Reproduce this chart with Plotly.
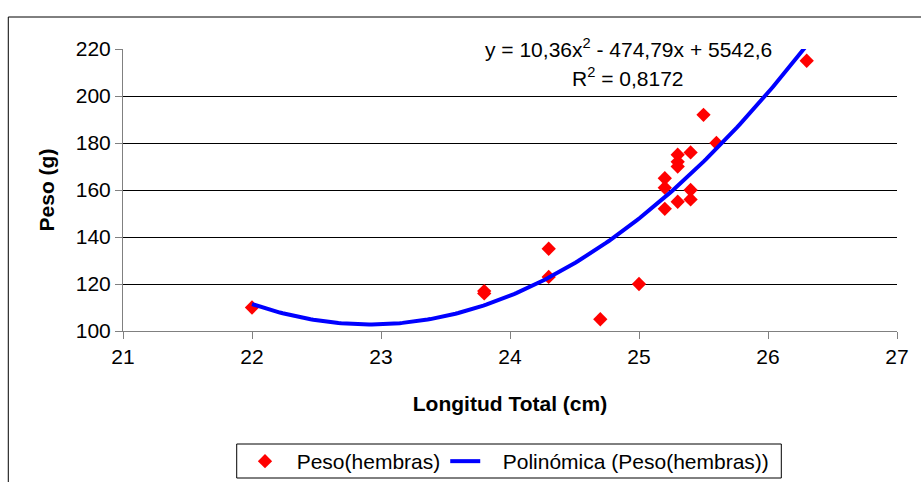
import numpy as np
import plotly.graph_objects as go

longitud = [22.0, 23.8, 23.8, 24.3, 24.3, 24.7, 25.0, 25.2, 25.2, 25.2, 25.3, 25.3, 25.3, 25.3,
            25.4, 25.4, 25.4, 25.5, 25.6, 26.3]
peso = [110, 117, 116, 135, 123, 105, 120, 165, 161, 152, 175, 172, 170, 155,
        176, 160, 156, 192, 180, 215]
coef = [10.36, -474.79, 5542.6]
x_ticks = [21, 22, 23, 24, 25, 26, 27]
y_ticks = [100, 120, 140, 160, 180, 200, 220]
series_names = ["Peso(hembras)", "Polinómica (Peso(hembras))"]

W, H = 921, 482
L, R, T, B = 123, 22, 49, 151
pw, ph = W - L - R, H - T - B

def px(x):
    return (x - L) / pw

def py(y):
    return (H - B - y) / ph

xs = np.linspace(min(longitud), max(longitud), 200)
ys = np.polyval(coef, xs)

NB = "\u00a0"
fig = go.Figure()
fig.add_trace(go.Scatter(x=longitud, y=peso, mode="markers", name=NB * 2 + series_names[0],
                         marker=dict(symbol="diamond", color="#ff0000", size=11)))
fig.add_trace(go.Scatter(x=xs, y=ys, mode="lines", name=NB * 3 + series_names[1],
                         line=dict(color="#0000ff", width=4)))

font = "Liberation Sans, Arial, sans-serif"
fig.update_layout(
    width=W, height=H,
    margin=dict(l=L, r=R, t=T, b=B),
    paper_bgcolor="white", plot_bgcolor="white",
    font=dict(family=font, size=21, color="black"),
    xaxis=dict(range=[21, 27], tickvals=x_ticks, showgrid=False, zeroline=False,
               showline=True, linecolor="#808080", linewidth=1,
               ticks="outside", ticklen=7, tickcolor="#808080",
               title=dict(text="<b>Longitud Total (cm)</b>", font=dict(size=21), standoff=29)),
    yaxis=dict(range=[100, 220], tickvals=y_ticks, showgrid=True, gridcolor="black", gridwidth=1,
               zeroline=False, showline=True, linecolor="#808080", linewidth=1,
               ticks="outside", ticklen=7, tickcolor="#808080",
               title=dict(text="<b>Peso (g)</b>", font=dict(size=21), standoff=15)),
    legend=dict(orientation="h", xref="container", yref="container",
                x=245 / W, y=1 - 441 / H, xanchor="left", yanchor="top",
                bgcolor="rgba(0,0,0,0)", borderwidth=0, font=dict(size=21),
                tracegroupgap=0),
    showlegend=True,
)
# outer chart-area frame
fig.add_shape(type="rect", xref="paper", yref="paper", x0=px(8), x1=px(940), y0=py(500), y1=py(17),
              line=dict(color="black", width=1), fillcolor="rgba(0,0,0,0)", layer="below")
# legend frame
fig.add_shape(type="rect", xref="paper", yref="paper", x0=px(237), x1=px(783), y0=py(478), y1=py(444),
              line=dict(color="black", width=1), fillcolor="rgba(0,0,0,0)", layer="below")
fig.add_annotation(text="y = 10,36x<sup>2</sup> - 474,79x + 5542,6", xref="paper", yref="paper",
                   x=px(630), y=py(33), showarrow=False, font=dict(size=21))
fig.add_annotation(text="R<sup>2</sup> = 0,8172", xref="paper", yref="paper",
                   x=px(629), y=py(62), showarrow=False, font=dict(size=21))

fig.write_html("out.html")
